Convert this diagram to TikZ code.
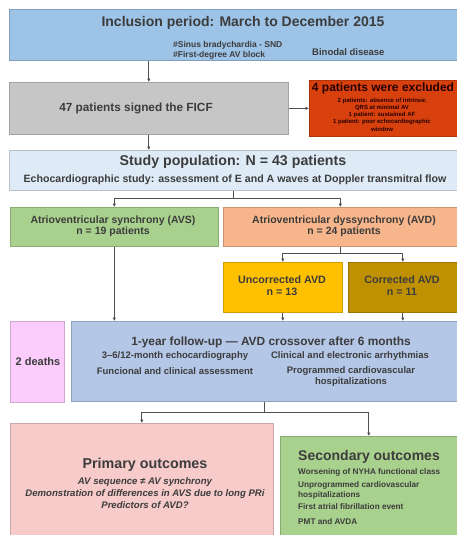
\documentclass[tikz,border=0pt]{standalone}
\usepackage{fontspec}
\setmainfont{Liberation Sans}
\usetikzlibrary{arrows.meta,calc}

\definecolor{inclblue}{HTML}{9DC3E6}
\definecolor{ficfgray}{HTML}{C6C6C6}
\definecolor{exclred}{HTML}{D8410E}
\definecolor{studyblue}{HTML}{DEEBF7}
\definecolor{avsgreen}{HTML}{A9D18E}
\definecolor{avdorange}{HTML}{F6B58A}
\definecolor{uncoryellow}{HTML}{FFC000}
\definecolor{corgold}{HTML}{BF9000}
\definecolor{deathpink}{HTML}{FCCCFC}
\definecolor{fublue}{HTML}{B4C7E7}
\definecolor{primpink}{HTML}{F8CBCB}
\definecolor{secgreen}{HTML}{A9D18E}
\definecolor{txtgray}{HTML}{3C3C3C}
\definecolor{arrgray}{HTML}{505050}

\newcommand{\fsz}[2]{\fontsize{#1}{#2}\selectfont}

\begin{document}
\begin{tikzpicture}[x=1pt,y=-1pt,
		box/.style={draw=#1!82!black, fill=#1, line width=0.6pt, anchor=north west, inner sep=0pt},
		arr/.style={draw=arrgray, line width=0.8pt, -{Latex[length=3.5pt,width=3.5pt]}},
		line/.style={draw=arrgray, line width=0.8pt}]
		\tikzstyle{every node}=[font=\bfseries, text=txtgray, inner sep=0pt]
		
		\useasboundingbox (0,0) rectangle (457,535);
		
		% boxes
		\node[box=inclblue, minimum width=448pt, minimum height=51pt] (incl) at (9,9) {};
		\node[box=ficfgray, minimum width=279pt, minimum height=52pt] (ficf) at (9,82) {};
		\node[box=exclred, minimum width=148pt, minimum height=56pt] (excl) at (309,80) {};
		\node[box=studyblue, minimum width=448pt, minimum height=40pt] (study) at (9,150) {};
		\node[box=avsgreen, minimum width=208pt, minimum height=39pt] (avs) at (10,207) {};
		\node[box=avdorange, minimum width=234pt, minimum height=39pt] (avd) at (223,207) {};
		\node[box=uncoryellow, minimum width=119pt, minimum height=50pt] (uncor) at (223,262) {};
		\node[box=corgold, minimum width=109pt, minimum height=50pt] (cor) at (348,262) {};
		\node[box=deathpink, minimum width=54pt, minimum height=81pt] (deaths) at (10,321) {};
		\node[box=fublue, minimum width=386pt, minimum height=80pt] (fu) at (71,321) {};
		\node[box=primpink, minimum width=263pt, minimum height=114pt] (prim) at (10,423) {};
		\node[box=secgreen, minimum width=177pt, minimum height=101pt] (sec) at (280,436) {};
		
		% texts
		\node[font=\bfseries\fsz{14}{16}] (incltitle) at (243,23) {Inclusion period: March to December 2015};
		\node[anchor=west, font=\bfseries\fsz{8.5}{9}] (sinus) at (173,45) {\#Sinus bradychardia - SND};
		\node[anchor=west, font=\bfseries\fsz{8.5}{9}] (avblock) at (173,55) {\#First-degree AV block};
		\node[anchor=west, font=\bfseries\fsz{9.5}{10}] (binodal) at (312,52) {Binodal disease};
		
		\node[font=\bfseries\fsz{11.8}{14}] (ficftext) at (136,108) {47 patients signed the FICF};
		
		\node[font=\bfseries\fsz{12}{14}, text=black!85!red] (excltitle) at (383,88) {4 patients were excluded};
		\node[font=\bfseries\fsz{6}{7.3}, text=black!85!red, align=center] (excltext) at (382,114.5)
		{2 patients: absence of intrinsic\\QRS at minimal AV\\1 patient: sustained AF\\1 patient: poor echocardiographic\\window};
		
		\node[font=\bfseries\fsz{14.2}{16}] (studytitle) at (233,162) {Study population: N = 43 patients};
		\node[font=\bfseries\fsz{10.6}{12}] (studytext) at (235,180) {Echocardiographic study: assessment of E and A waves at Doppler transmitral flow};
		
		\node[font=\bfseries\fsz{10.5}{11.5}, align=center] (avstext) at (113,226.5) {Atrioventricular synchrony (AVS)\\n = 19 patients};
		\node[font=\bfseries\fsz{10.5}{11.5}, align=center] (avdtext) at (344,226.5) {Atrioventricular dyssynchrony (AVD)\\n = 24 patients};
		
		\node[font=\bfseries\fsz{10.7}{12}, align=center] (uncortext) at (282,286) {Uncorrected AVD\\n = 13};
		\node[font=\bfseries\fsz{10.7}{12}, align=center] (cortext) at (402,286) {Corrected AVD\\n = 11};
		
		\node[font=\bfseries\fsz{11}{12}] (deathstext) at (38,362) {2 deaths};
		
		\node[font=\bfseries\fsz{11.9}{14}] (futitle) at (271,342) {1-year follow-up --- AVD crossover after 6 months};
		\node[font=\bfseries\fsz{9.5}{11}] (echo) at (175,356) {3--6/12-month echocardiography};
		\node[font=\bfseries\fsz{9.5}{11}] (funcional) at (175,371) {Funcional and clinical assessment};
		\node[font=\bfseries\fsz{9.5}{11}] (arrhythmias) at (350,356) {Clinical and electronic arrhythmias};
		\node[font=\bfseries\fsz{9.5}{11.5}, align=center] (hosp) at (351,376.5) {Programmed cardiovascular\\hospitalizations};
		
		\node[font=\bfseries\fsz{14.3}{16}] (primtitle) at (145,465) {Primary outcomes};
		\node[font=\bfseries\itshape\fsz{9.6}{12}, align=center] (primtext) at (145,493)
		{AV sequence ≠ AV synchrony\\Demonstration of differences in AVS due to long PRi\\Predictors of AVD?};
		
		\node[font=\bfseries\fsz{14}{16}] (sectitle) at (369,457) {Secondary outcomes};
		\node[anchor=west, font=\bfseries\fsz{8.2}{9}] (nyha) at (298,472) {Worsening of NYHA functional class};
		\node[anchor=north west, align=left, font=\bfseries\fsz{8.2}{9.5}] (unprog) at (298,481.5) {Unprogrammed cardiovascular\\hospitalizations};
		\node[anchor=west, font=\bfseries\fsz{8.2}{9}] (af) at (298,507) {First atrial fibrillation event};
		\node[anchor=west, font=\bfseries\fsz{8.2}{9}] (pmt) at (298,522) {PMT and AVDA};
		
		% connectors
		\draw[arr] (ficf.north |- incl.south) -- (ficf.north);
		\draw[arr] (ficf.east) -- (excl.west |- ficf.east);
		\draw[arr] (ficf.south) -- (ficf.south |- study.north);
		
		\coordinate (split1) at ($(study.south)+(0,8)$);
		\draw[line] (study.south) -- (split1);
		\draw[arr] (split1) -| (avs.north);
		\draw[arr] (split1) -| (avd.north);
		
		\draw[arr] (avs.south) -- (avs.south |- fu.north);
		
		\coordinate (split2) at ($(avd.south)+(0,7)$);
		\draw[line] (avd.south) -- (split2);
		\draw[arr] (split2) -| (uncor.north);
		\draw[arr] (split2) -| (cor.north);
		
		\draw[arr] (uncor.south) -- (uncor.south |- fu.north);
		\draw[arr] (cor.south) -- (cor.south |- fu.north);
		
		\coordinate (split3) at ($(fu.south)+(0,11)$);
		\draw[line] (fu.south) -- (split3);
		\draw[arr] (split3) -| (prim.north);
		\draw[arr] (split3) -| (sec.north);
		
\end{tikzpicture}
\end{document}
